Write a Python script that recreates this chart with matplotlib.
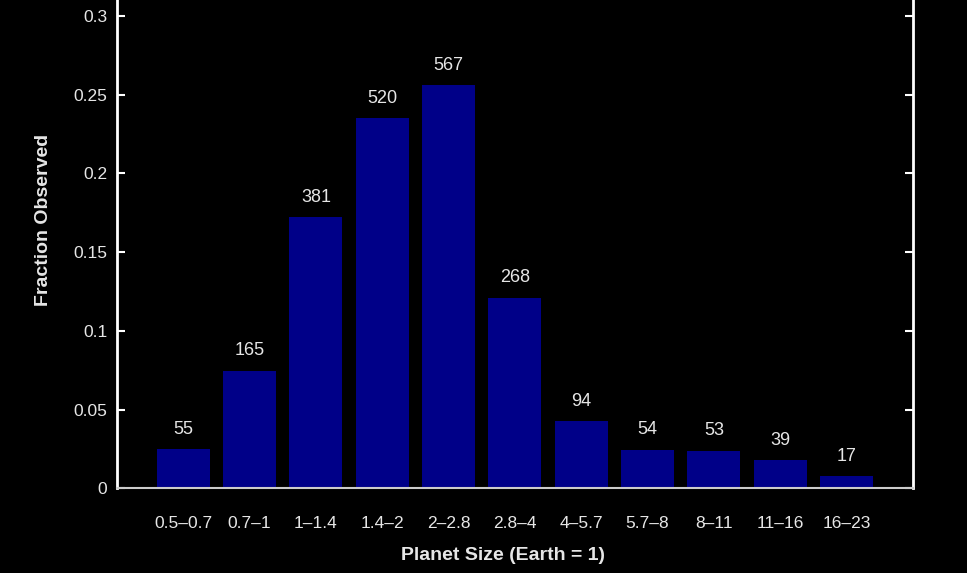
import matplotlib
matplotlib.use('Agg')
import matplotlib.pyplot as plt

# planet size bins (Earth radii), number of planets and observed fraction
size_bins = ['0.5–0.7', '0.7–1', '1–1.4', '1.4–2', '2–2.8', '2.8–4',
             '4–5.7', '5.7–8', '8–11', '11–16', '16–23']
counts = [55, 165, 381, 520, 567, 268, 94, 54, 53, 39, 17]
fractions = [0.0249, 0.0746, 0.1722, 0.2350, 0.2562, 0.1211,
             0.0425, 0.0244, 0.0239, 0.0176, 0.0077]
y_ticks = [0, 0.05, 0.1, 0.15, 0.2, 0.25, 0.3]
y_tick_labels = ['0', '0.05', '0.1', '0.15', '0.2', '0.25', '0.3']

plt.rcParams['font.family'] = ['Liberation Sans', 'DejaVu Sans']
txt = '#e6e6e6'

fig = plt.figure(figsize=(9.67, 5.73), dpi=100, facecolor='black')
ax = fig.add_axes([0.121, 0.148, 0.823, 0.852], facecolor='black')

x = list(range(len(size_bins)))
bars = ax.bar(x, fractions, width=0.8, color='#000088', zorder=2)

for b, c in zip(bars, counts):
    ax.text(b.get_x() + b.get_width() / 2, b.get_height() + 0.0072, str(c),
            ha='center', va='bottom', color=txt, fontsize=13)

ax.set_xlim(-1, 11)
ax.set_ylim(0, 0.3102)
ax.set_yticks(y_ticks)
ax.set_yticklabels(y_tick_labels)
ax.set_xticks(x)
ax.set_xticklabels(size_bins)

ax.tick_params(axis='y', direction='in', length=6, width=1.5, color='white',
               labelcolor=txt, labelsize=12.5, right=True, pad=7)
ax.tick_params(axis='x', length=0, labelcolor=txt, labelsize=12.5, pad=20)

for side in ['left', 'right']:
    ax.spines[side].set_color('white')
    ax.spines[side].set_linewidth(2)
ax.spines['bottom'].set_color('#cccccc')
ax.spines['bottom'].set_linewidth(1.5)
ax.spines['top'].set_visible(False)

ax.set_ylabel('Fraction Observed', color=txt, fontsize=14, fontweight='bold')
ax.set_xlabel('Planet Size (Earth = 1)', color=txt, fontsize=14, fontweight='bold')
ax.yaxis.set_label_coords(-0.082, 0.549)
ax.xaxis.set_label_coords(0.485, -0.121)

fig.savefig('out.png', dpi=100, facecolor='black')
